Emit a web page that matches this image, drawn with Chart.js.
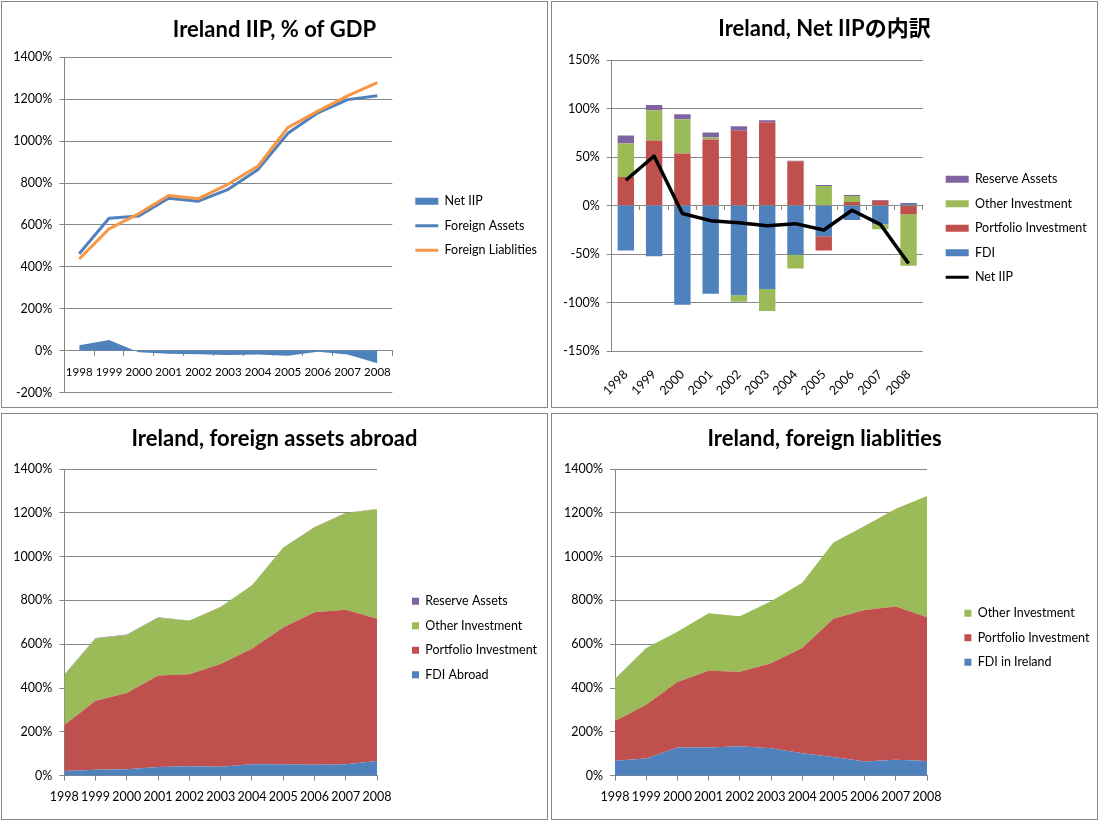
<!DOCTYPE html>
<html>
<head>
<meta charset="utf-8">
<script src="https://cdn.jsdelivr.net/npm/chart.js@4.4.1/dist/chart.umd.min.js"></script>
<style>
html,body{margin:0;padding:0;background:#fff;width:1105px;height:827px;overflow:hidden;}
.panel{position:absolute;width:545px;height:405px;border:1px solid #868686;background:#fff;}
canvas{display:block;}
</style>
</head>
<body>
<div class="panel" style="left:1px;top:1px"><canvas id="c1" width="545" height="405"></canvas></div>
<div class="panel" style="left:551px;top:1px"><canvas id="c2" width="545" height="405"></canvas></div>
<div class="panel" style="left:1px;top:413px"><canvas id="c3" width="545" height="405"></canvas></div>
<div class="panel" style="left:551px;top:413px"><canvas id="c4" width="545" height="405"></canvas></div>
<script>
// ---------- data ----------
const years = ['1998','1999','2000','2001','2002','2003','2004','2005','2006','2007','2008'];

// Panel 1: Ireland IIP, % of GDP
const netIIP = [25, 51, -8, -15, -17, -21, -19, -25, -5, -19, -60];
const foreignAssets = [462, 632, 643, 727, 713, 770, 865, 1037, 1135, 1198, 1216];
const foreignLiabilities = [437, 581, 654, 740, 725, 795, 881, 1065, 1143, 1216, 1279];

// Panel 2: Net IIP breakdown
const netFDI = [-46.5, -52.4, -102.4, -91, -92.4, -86.1, -50.7, -31.6, -14.9, -19.4, 1.5];
const netPortfolio = [29.5, 67, 53.5, 68, 77.1, 85.8, 45.5, -14.9, 3.5, 4.9, -9];
const netOther = [34.4, 31.3, 35.4, 2.1, -6.9, -22.6, -14.2, 20.1, 6.2, -5.2, -53];
const netReserve = [8.3, 5.2, 5.2, 5.2, 4.5, 2.0, 0.7, 1.1, 1.1, 0.7, 1.0];
const netIIPLine = [26, 51, -8.3, -15.6, -17.7, -20.8, -18.7, -25.3, -4.9, -19.4, -59.7];

// Panel 3: foreign assets abroad (stacked layers)
const fdiAbroad = [21, 27, 29, 40, 43, 41, 52, 52, 50, 52, 67];
const portfolioAssets = [210, 315, 348, 417, 420, 469, 528, 624, 696, 706, 650];
const otherAssets = [229, 284, 265, 264, 245, 260, 288, 365, 388, 441, 499];
const reserveAssets = [2, 2, 2, 2, 1, 1, 1, 1, 1, 1, 1];

// Panel 4: foreign liabilities (stacked layers)
const fdiInIreland = [68, 79, 129, 129, 135, 125, 102, 85, 65, 73, 67];
const portfolioLiabilities = [182, 245, 299, 350, 340, 388, 481, 632, 691, 699, 656];
const otherLiabilities = [192, 259, 229, 262, 253, 283, 298, 348, 384, 446, 554];

// ---------- styling ----------
const FONT = "Lato, 'Noto Sans CJK JP', sans-serif";
const FS = 12.5;
Chart.defaults.font.family = FONT;
Chart.defaults.font.size = FS;
Chart.defaults.color = '#000';
Chart.defaults.animation = false;
Chart.defaults.plugins.tooltip.enabled = false;
const GRID = '#868686';
const BLUE = '#4F81BD', RED = '#C0504D', GREEN = '#9BBB59', PURPLE = '#8064A2', ORANGE = '#F79646';
const W = 545;

const pct = v => v + '%';

// layout helper: returns side padding, y-axis width and legend width so that
// the plot area spans [left, right] and the legend starts after a gap
function frame(labels, boxW, left, right, gap) {
  const ctx = document.createElement('canvas').getContext('2d');
  ctx.font = FS + 'px ' + FONT;
  const maxText = Math.max(...labels.map(t => ctx.measureText(t).width));
  const natural = 12 + boxW + FS / 2 + maxText + 10;
  const avail = W - right - gap;
  const pad = Math.max(0, avail - natural);
  return { pad, yW: left - pad, M: avail - pad, gap };
}

function yScale(min, max, step, width, stacked) {
  return {
    min, max, stacked: !!stacked,
    ticks: { stepSize: step, callback: pct, padding: 7 },
    grid: { color: GRID, tickLength: 5 },
    border: { color: GRID },
    afterFit(s) { s.width = width; }
  };
}
function gapScale(w) {
  return {
    type: 'linear', position: 'right', display: true,
    grid: { display: false, drawTicks: false }, border: { display: false },
    ticks: { display: false },
    afterFit(s) { s.width = w; }
  };
}
function titleOpt(text, mid, chartTop) {
  const lh = 22 * 1.2;
  return {
    display: true, text, color: '#000',
    font: { size: 22, weight: 'bold', lineHeight: 1.2 },
    padding: { top: mid - lh / 2, bottom: chartTop - mid - lh / 2 }
  };
}
function mixedLabels(chart) {
  const items = Chart.defaults.plugins.legend.labels.generateLabels(chart);
  items.forEach(it => {
    const ds = chart.data.datasets[it.datasetIndex];
    if (ds.legendLine) {
      it.pointStyle = 'line'; it.strokeStyle = ds.borderColor; it.lineWidth = 3;
    } else {
      it.pointStyle = 'rect'; it.fillStyle = ds.backgroundColor; it.lineWidth = 0;
    }
  });
  return items;
}
function legendOpt(T, M, mixed) {
  const labels = mixed
    ? { padding: 12, boxHeight: 7, usePointStyle: true, pointStyleWidth: 23, color: '#000', generateLabels: mixedLabels }
    : { padding: 12, boxWidth: 7, boxHeight: 7, color: '#000' };
  return {
    position: 'right', align: 'start', fullSize: false, reverse: true, maxWidth: M,
    title: { display: true, text: ' ', font: { size: 1, lineHeight: 1 }, padding: { top: T - 1, bottom: 0 } },
    labels
  };
}

// ---------- Panel 1 ----------
const f1 = frame(['Net IIP', 'Foreign Assets', 'Foreign Liablities'], 23, 62.3, 390.3, 11);
new Chart(document.getElementById('c1'), {
  type: 'line',
  data: {
    labels: years,
    datasets: [
      { label: 'Foreign Liablities', data: foreignLiabilities, borderColor: ORANGE, backgroundColor: ORANGE, borderWidth: 3, pointRadius: 0, fill: false, tension: 0, legendLine: true, borderJoinStyle: 'round' },
      { label: 'Foreign Assets', data: foreignAssets, borderColor: BLUE, backgroundColor: BLUE, borderWidth: 3, pointRadius: 0, fill: false, tension: 0, legendLine: true, borderJoinStyle: 'round' },
      { label: 'Net IIP', data: netIIP, borderColor: BLUE, backgroundColor: BLUE, borderWidth: 0, pointRadius: 0, fill: 'origin', tension: 0 }
    ]
  },
  options: {
    responsive: false, events: [],
    layout: { padding: { left: f1.pad, right: f1.pad, top: 0, bottom: 14 } },
    plugins: {
      title: titleOpt('Ireland IIP, % of GDP', 28, 55.3),
      legend: legendOpt(125.7, f1.M, true)
    },
    scales: {
      x: {
        type: 'category', position: { y: 0 }, offset: true,
        grid: { drawOnChartArea: false, offset: true, tickLength: 5, color: GRID },
        border: { color: GRID },
        ticks: { padding: 10, autoSkip: false, maxRotation: 0, font: { size: 11.5 } }
      },
      y: yScale(-200, 1400, 200, f1.yW),
      gap: gapScale(f1.gap)
    }
  }
});

// ---------- Panel 2 ----------
const f2 = frame(['Reserve Assets', 'Other Investment', 'Portfolio Investment', 'FDI', 'Net IIP'], 23, 59.7, 370.7, 11);
new Chart(document.getElementById('c2'), {
  type: 'bar',
  data: {
    labels: years,
    datasets: [
      { type: 'line', label: 'Net IIP', data: netIIPLine, borderColor: '#000', backgroundColor: '#000', borderWidth: 3.5, pointRadius: 0, fill: false, tension: 0, order: 0, stack: 'net', legendLine: true, borderJoinStyle: 'round' },
      { label: 'FDI', data: netFDI, backgroundColor: BLUE, order: 1, stack: 'bars' },
      { label: 'Portfolio Investment', data: netPortfolio, backgroundColor: RED, order: 1, stack: 'bars' },
      { label: 'Other Investment', data: netOther, backgroundColor: GREEN, order: 1, stack: 'bars' },
      { label: 'Reserve Assets', data: netReserve, backgroundColor: PURPLE, order: 1, stack: 'bars' }
    ]
  },
  options: {
    responsive: false, events: [],
    barPercentage: 0.58, categoryPercentage: 1.0,
    layout: { padding: { left: f2.pad, right: f2.pad, top: 0, bottom: 0 } },
    plugins: {
      title: titleOpt('Ireland, Net IIPの内訳', 27, 58),
      legend: legendOpt(101, f2.M, true)
    },
    scales: {
      x: {
        stacked: true, offset: true,
        grid: { display: false, drawTicks: false }, border: { display: false },
        ticks: { minRotation: 45, maxRotation: 45, padding: 16, autoSkip: false },
        afterFit(s) { s.height = 56; }
      },
      xz: {
        type: 'category', position: { y: 0 }, offset: true,
        grid: { drawOnChartArea: false, offset: true, tickLength: 4, color: GRID },
        border: { color: GRID },
        ticks: { display: false }
      },
      y: yScale(-150, 150, 50, f2.yW, true),
      gap: gapScale(f2.gap)
    }
  }
});

// ---------- Panels 3 & 4 ----------
function area(label, data, color, fill) {
  return { label, data, backgroundColor: color, borderColor: color, borderWidth: 0, pointRadius: 0, fill, tension: 0 };
}
function stackedAreaChart(id, title, datasets, f, T) {
  new Chart(document.getElementById(id), {
    type: 'line',
    data: { labels: years, datasets },
    options: {
      responsive: false, events: [],
      layout: { padding: { left: f.pad, right: f.pad, top: 0, bottom: 0 } },
      plugins: {
        title: titleOpt(title, 25, 55),
        legend: legendOpt(T, f.M, false)
      },
      scales: {
        x: {
          offset: false,
          grid: { drawOnChartArea: false, tickLength: 5, color: GRID },
          border: { color: GRID },
          ticks: { padding: 9, autoSkip: false, maxRotation: 0 },
          afterFit(s) { s.height = 43.3; }
        },
        y: yScale(0, 1400, 200, f.yW, true),
        gap: gapScale(f.gap)
      }
    }
  });
}

const f3 = frame(['Reserve Assets', 'Other Investment', 'Portfolio Investment', 'FDI Abroad'], 7, 62.3, 375, 23);
stackedAreaChart('c3', 'Ireland, foreign assets abroad', [
  area('FDI Abroad', fdiAbroad, BLUE, 'origin'),
  area('Portfolio Investment', portfolioAssets, RED, '-1'),
  area('Other Investment', otherAssets, GREEN, '-1'),
  area('Reserve Assets', reserveAssets, PURPLE, '-1')
], f3, 114);

const f4 = frame(['Other Investment', 'Portfolio Investment', 'FDI in Ireland'], 7, 63, 375, 25.4);
stackedAreaChart('c4', 'Ireland, foreign liablities', [
  area('FDI in Ireland', fdiInIreland, BLUE, 'origin'),
  area('Portfolio Investment', portfolioLiabilities, RED, '-1'),
  area('Other Investment', otherLiabilities, GREEN, '-1')
], f4, 126);
</script>
</body>
</html>
